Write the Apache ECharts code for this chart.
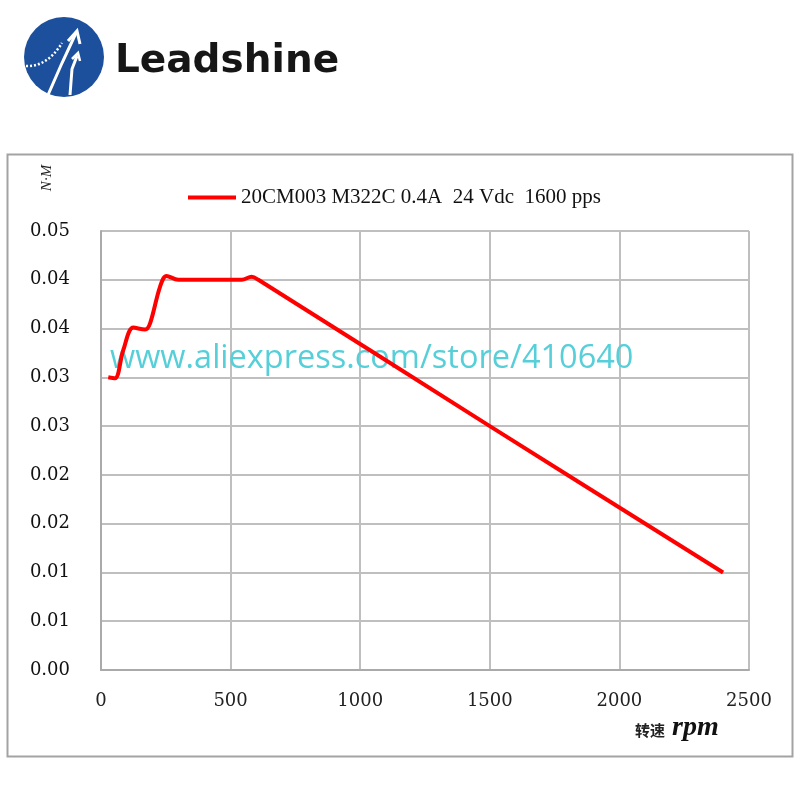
<!DOCTYPE html>
<html>
<head>
<meta charset="utf-8">
<script src="https://cdn.jsdelivr.net/npm/echarts@6/dist/echarts.min.js"></script>
<style>
  html, body { margin: 0; padding: 0; background: #fff; }
  #chart { width: 800px; height: 800px; }
</style>
</head>
<body>
<div id="chart"></div>
<script>
// speed (rpm) vs torque (N·M)
const speedRpm = [28, 54, 86, 125, 170, 189, 228, 253, 298, 543, 581, 607, 1500, 2400];
const torqueNm = [0.0300, 0.0299, 0.0328, 0.0351, 0.0349, 0.0355, 0.0393, 0.0404, 0.0400, 0.0400, 0.0403, 0.0400, 0.0250, 0.0100];
const seriesName = "20CM003 M322C 0.4A  24 Vdc  1600 pps";
// the original axis rounds 0.005 steps to two decimals
const yTickLabels = ["0.00", "0.01", "0.01", "0.02", "0.02", "0.03", "0.03", "0.04", "0.04", "0.05"];
const xTickLabels = ["0", "500", "1000", "1500", "2000", "2500"];

const chart = echarts.init(document.getElementById("chart"), null, { renderer: "canvas" });

const gridColor = "#bfbfbf";

chart.setOption({
  backgroundColor: "#ffffff",
  animation: false,
  legend: {
    left: 183,
    top: 182,
    icon: "rect",
    itemWidth: 48,
    itemHeight: 4,
    itemGap: 10,
    textStyle: { fontFamily: "Liberation Serif", fontSize: 21, color: "#111" },
    data: [seriesName]
  },
  grid: { left: 101, right: 51, top: 231, bottom: 130 },
  xAxis: {
    type: "value",
    min: 0,
    max: 2500,
    interval: 500,
    axisLine: { show: true, lineStyle: { color: "#aaaaaa", width: 2 } },
    axisTick: { show: false },
    axisLabel: {
      margin: 22,
      fontFamily: "DejaVu Serif",
      fontSize: 18,
      color: "#222",
      formatter: (v, i) => xTickLabels[i]
    },
    splitLine: { show: true, lineStyle: { color: gridColor, width: 2 } }
  },
  yAxis: {
    type: "value",
    min: 0,
    max: 0.045,
    interval: 0.005,
    axisLine: { show: true, lineStyle: { color: "#aaaaaa", width: 2 } },
    axisTick: { show: false },
    axisLabel: {
      margin: 31,
      fontFamily: "DejaVu Serif",
      fontSize: 18,
      color: "#111",
      formatter: (v, i) => yTickLabels[i]
    },
    splitLine: { show: true, lineStyle: { color: gridColor, width: 2 } }
  },
  series: [
    {
      name: seriesName,
      type: "line",
      smooth: 0.35,
      showSymbol: false,
      z: 3,
      color: "#ff0000",
      lineStyle: { width: 4, color: "#ff0000" },
      data: speedRpm.map((s, i) => [s, torqueNm[i]])
    }
  ],
  graphic: [
    // outer chart frame
    {
      type: "rect",
      z: 0,
      shape: { x: 7.5, y: 154.5, width: 785, height: 602 },
      style: { fill: "none", stroke: "#a3a3a3", lineWidth: 2 }
    },
    // logo circle
    {
      type: "circle",
      shape: { cx: 64, cy: 57, r: 40 },
      style: { fill: "#1c4f9c" }
    },
    {
      type: "polyline",
      shape: { points: [[48, 95], [62, 63], [76, 33]] },
      style: { stroke: "#fff", lineWidth: 3, fill: "none" }
    },
    {
      type: "polyline",
      shape: { points: [[68, 41], [77, 31], [80, 44]] },
      style: { stroke: "#fff", lineWidth: 3, fill: "none" }
    },
    {
      type: "polyline",
      shape: { points: [[70, 95], [72, 69], [77, 56]] },
      style: { stroke: "#fff", lineWidth: 3, fill: "none" }
    },
    {
      type: "polyline",
      shape: { points: [[72, 59], [78, 53], [80, 61]] },
      style: { stroke: "#fff", lineWidth: 2.5, fill: "none" }
    },
    {
      type: "bezierCurve",
      shape: { x1: 26, y1: 66, x2: 62, y2: 43, cpx1: 44, cpy1: 67, cpx2: 56, cpy2: 53 },
      style: { stroke: "#fff", lineWidth: 2.5, lineDash: [2, 2], fill: "none" }
    },
    {
      type: "text",
      left: 115,
      top: 42,
      style: {
        text: "Leadshine",
        font: "bold 39px 'DejaVu Sans'",
        fill: "#161616"
      }
    },
    // unit label on the y axis
    {
      type: "text",
      x: 47,
      y: 178,
      rotation: Math.PI / 2,
      style: {
        text: "N·M",
        font: "italic 15px 'Liberation Serif'",
        fill: "#222",
        align: "center",
        verticalAlign: "middle"
      }
    },
    // x axis name
    {
      type: "text",
      left: 635,
      top: 714,
      style: {
        rich: {
          a: { fontFamily: "Noto Sans CJK SC", fontWeight: "bold", fontSize: 15, fill: "#222", padding: [5, 7, 0, 0] },
          b: { fontFamily: "Liberation Serif", fontStyle: "italic", fontWeight: "bold", fontSize: 28, fill: "#111" }
        },
        text: "{a|转速}{b|rpm}"
      }
    },
    // store watermark
    {
      type: "text",
      left: 110,
      top: 342,
      z: 2,
      style: {
        text: "www.aliexpress.com/store/410640",
        font: "32.5px 'Open Sans'",
        fill: "#56cfd9"
      }
    }
  ]
});
</script>
</body>
</html>
